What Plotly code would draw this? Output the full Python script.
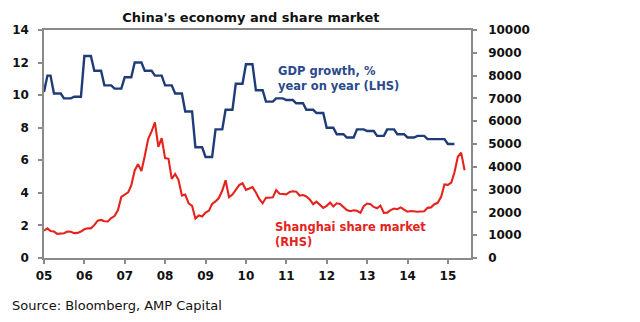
import numpy as np
import pandas as pd
import plotly.graph_objects as go

# ---------------- data ----------------
tick_years = ["2005-01-01", "2006-01-01", "2007-01-01", "2008-01-01", "2009-01-01", "2010-01-01",
              "2011-01-01", "2012-01-01", "2013-01-01", "2014-01-01", "2015-01-01"]
tick_labels = ["05", "06", "07", "08", "09", "10", "11", "12", "13", "14", "15"]

# China real GDP growth, % y/y, quarterly 2005 Q1 .. 2015 Q1 (drawn as monthly steps)
gdp_quarterly = [11.2, 10.1, 9.8, 9.9,
                 12.4, 11.5, 10.6, 10.4,
                 11.1, 12.0, 11.5, 11.2,
                 10.6, 10.1, 9.0, 6.8,
                 6.2, 7.9, 9.1, 10.7,
                 11.9, 10.3, 9.6, 9.8,
                 9.7, 9.5, 9.1, 8.9,
                 8.0, 7.6, 7.4, 7.9,
                 7.8, 7.5, 7.9, 7.6,
                 7.4, 7.5, 7.3, 7.3,
                 7.0]
gdp_first_month = 10.2  # value the line starts from at Jan 2005

# Shanghai composite, monthly Jan 2005 .. Jun 2015
shanghai = [1195, 1300, 1180, 1160, 1060, 1080, 1085, 1160, 1155, 1090, 1100, 1160,
            1260, 1300, 1300, 1440, 1640, 1670, 1610, 1600, 1750, 1840, 2100, 2680,
            2790, 2880, 3180, 3840, 4110, 3820, 4470, 5220, 5550, 5950, 4870, 5260,
            4380, 4350, 3470, 3690, 3430, 2740, 2780, 2400, 2290, 1730, 1870, 1820,
            1990, 2080, 2370, 2480, 2630, 2960, 3410, 2670, 2780, 3000, 3200, 3280,
            2990, 3050, 3110, 2870, 2590, 2400, 2640, 2640, 2660, 2980, 2820, 2810,
            2790, 2900, 2930, 2910, 2740, 2760, 2700, 2570, 2360, 2470, 2330, 2200,
            2290, 2430, 2260, 2400, 2370, 2230, 2100, 2050, 2090, 2070, 1980, 2270,
            2390, 2360, 2240, 2180, 2300, 1980, 1990, 2100, 2170, 2140, 2220, 2120,
            2030, 2060, 2030, 2030, 2040, 2050, 2200, 2220, 2360, 2420, 2680, 3230,
            3210, 3310, 3750, 4440, 4620, 3850]

# ---------------- build ----------------
gdp_monthly = np.repeat(np.array(gdp_quarterly, dtype=float), 3)
gdp_monthly[0] = gdp_first_month
gdp_dates = pd.date_range("2005-01-01", periods=len(gdp_monthly), freq="MS")
sh_dates = pd.date_range("2005-01-01", periods=len(shanghai), freq="MS")

BLUE = "#1F3C78"
BLUE_TXT = "#2B4A8C"
RED = "#E5231D"
GRAY = "#8A8A8A"
FONT = "DejaVu Sans"

fig = go.Figure()
fig.add_trace(go.Scatter(x=gdp_dates, y=gdp_monthly, mode="lines",
                         line=dict(color=BLUE, width=2.4), yaxis="y", showlegend=False))
fig.add_trace(go.Scatter(x=sh_dates, y=shanghai, mode="lines",
                         line=dict(color=RED, width=2.1), yaxis="y2", showlegend=False))

tickfont = dict(family=FONT, size=12, color="#111111", weight="bold")

fig.update_layout(
    width=640, height=322,
    margin=dict(l=40, r=169, t=30, b=64),
    paper_bgcolor="white", plot_bgcolor="white",
    title=dict(text="China's economy and share market", x=0.392, xref="container",
               y=1 - 17 / 322, yref="container", xanchor="center", yanchor="middle",
               font=dict(family=FONT, size=13, color="#111111", weight="bold")),
    xaxis=dict(type="date", range=["2005-01-01", "2015-07-29"],
               tickvals=tick_years, ticktext=tick_labels,
               showline=True, linecolor=GRAY, linewidth=1.5, mirror=True,
               ticks="outside", ticklen=4, tickcolor=GRAY, tickwidth=1.5,
               showgrid=False, zeroline=False, tickfont=tickfont, ticklabelstandoff=2),
    yaxis=dict(range=[0, 14], dtick=2, showline=True, linecolor=GRAY, linewidth=1.5,
               ticks="outside", ticklen=4, tickcolor=GRAY, tickwidth=1.5,
               showgrid=False, zeroline=False, tickfont=tickfont, ticklabelstandoff=7),
    yaxis2=dict(range=[0, 10000], dtick=1000, tickformat="d", overlaying="y", side="right",
                showline=True, linecolor=GRAY, linewidth=1.5,
                ticks="outside", ticklen=4, tickcolor=GRAY, tickwidth=1.5,
                showgrid=False, zeroline=False, tickfont=tickfont, ticklabelstandoff=9),
)

fig.add_annotation(text="GDP growth, %<br>year on year (LHS)", xref="paper", yref="paper",
                   x=(274 - 40) / 431, y=(258 - 62) / 228, xanchor="left", yanchor="top",
                   align="left", showarrow=False,
                   font=dict(family=FONT, size=11.5, color=BLUE_TXT, weight="bold"))
fig.add_annotation(text="Shanghai share market<br>(RHS)", xref="paper", yref="paper",
                   x=(271 - 40) / 431, y=(258 - 218) / 228, xanchor="left", yanchor="top",
                   align="left", showarrow=False,
                   font=dict(family=FONT, size=11.5, color=RED, weight="bold"))
fig.add_annotation(text="Source: Bloomberg, AMP Capital", xref="paper", yref="paper",
                   x=(6 - 40) / 431, y=(258 - 305) / 228, xanchor="left", yanchor="middle",
                   align="left", showarrow=False,
                   font=dict(family=FONT, size=13, color="#111111"))

fig.write_html("out.html")
